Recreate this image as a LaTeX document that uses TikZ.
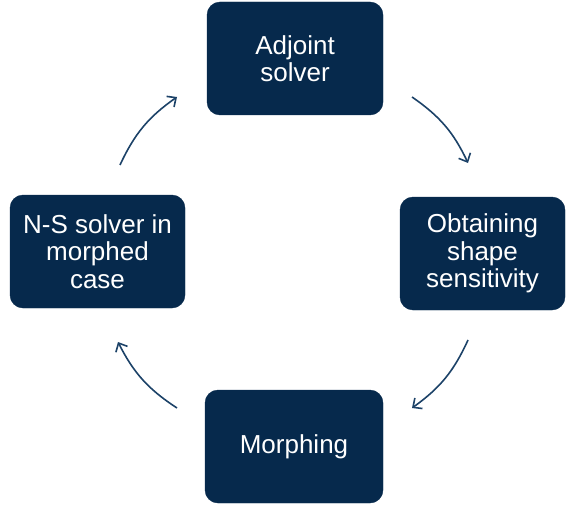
\documentclass[tikz,border=0pt]{standalone}
\usepackage{fontspec}
\setmainfont{Liberation Sans}
\usetikzlibrary{arrows.meta}
\definecolor{navy}{RGB}{6,41,76}
\definecolor{arrowc}{RGB}{28,66,104}
\tikzset{
  stepbox/.style={fill=navy, draw=navy, rounded corners=13pt, text=white,
    align=center, font=\fontsize{26}{27.5}\selectfont, inner sep=0pt},
  cyc/.style={draw=arrowc, line width=1.6pt, -{Straight Barb[length=7pt,width=13pt,line width=1.6pt]}}
}
\begin{document}
\begin{tikzpicture}[x=1pt,y=-1pt]
\useasboundingbox (0,0) rectangle (567,508);
\node[stepbox, minimum width=176pt, minimum height=113pt] (adj) at (295,58.5) {Adjoint\\solver};
\node[stepbox, minimum width=165pt, minimum height=113pt] (sens) at (482.5,253.5) {Obtaining\\shape\\sensitivity};
\node[stepbox, minimum width=175pt, minimum height=113pt] (ns) at (97.5,251.5) {N-S solver in\\morphed\\case};
\node[stepbox, minimum width=178pt, minimum height=113pt] (mor) at (294,446.5) {Morphing};
\coordinate (a1s) at (120,165);
\coordinate (a1e) at (177,97);
\coordinate (a2s) at (412,97);
\coordinate (a2e) at (468,163);
\coordinate (a3s) at (468,340);
\coordinate (a3e) at (412,408);
\coordinate (a4s) at (177,408);
\coordinate (a4e) at (118,342);
\draw[cyc] (a1s) to[bend left=15] (a1e);
\draw[cyc] (a2s) to[bend left=15] (a2e);
\draw[cyc] (a3s) to[bend left=15] (a3e);
\draw[cyc] (a4s) to[bend left=15] (a4e);
\end{tikzpicture}
\end{document}
